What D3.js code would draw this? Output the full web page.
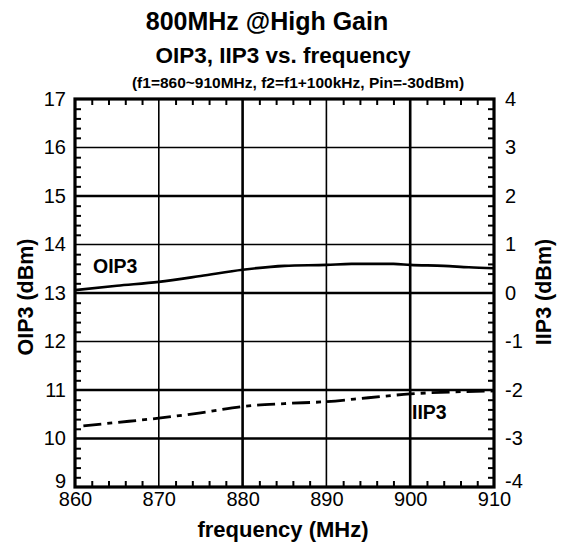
<!DOCTYPE html>
<html><head><meta charset="utf-8">
<script src="https://cdn.jsdelivr.net/npm/d3@7"></script>
<style>
html,body{margin:0;padding:0;background:#fff;}
text{font-family:"Liberation Sans",Arial,sans-serif;fill:#000;}
</style></head>
<body>
<svg id="chart" width="563" height="549"></svg>
<script>
const titleLines = ["800MHz @High Gain", "OIP3, IIP3 vs. frequency"];
const subtitle = "(f1=860~910MHz, f2=f1+100kHz, Pin=-30dBm)";
const xTicks = [860, 870, 880, 890, 900, 910];
const yLeftTicks = [9, 10, 11, 12, 13, 14, 15, 16, 17];
const yRightTicks = [-4, -3, -2, -1, 0, 1, 2, 3, 4];
const thickH = [15, 13, 11, 10];
const thickV = [880, 900];
const oip3Freq = [860, 865, 870, 875, 880, 885, 890, 893, 898, 900, 904, 907, 910];
const oip3Vals = [13.06, 13.15, 13.23, 13.35, 13.48, 13.56, 13.58, 13.60, 13.60, 13.58, 13.56, 13.53, 13.51];
const iip3Freq = [861, 865, 870, 875, 880, 885, 890, 895, 900, 905, 910];
const iip3Vals = [-2.74, -2.67, -2.58, -2.47, -2.34, -2.28, -2.24, -2.16, -2.08, -2.04, -2.02];

const svg = d3.select("#chart");
const L = 75, R = 494, T = 99, B = 487;
const x = d3.scaleLinear().domain([860, 910]).range([L, R]);
const yL = d3.scaleLinear().domain([9, 17]).range([B, T]);
const yR = d3.scaleLinear().domain([-4, 4]).range([B, T]);

// titles
const tCfg = [{cx: 267, y: 30, fs: 25}, {cx: 283, y: 63, fs: 22.5}];
svg.selectAll("text.title").data(titleLines).enter().append("text")
  .attr("x", (d, i) => tCfg[i].cx).attr("y", (d, i) => tCfg[i].y)
  .attr("text-anchor", "middle").style("font-size", (d, i) => tCfg[i].fs + "px").style("font-weight", "bold").text(d => d);
svg.append("text").attr("x", 298).attr("y", 88).attr("text-anchor", "middle")
  .style("font-size", "15.5px").style("font-weight", "bold").text(subtitle);

// grid
const g = svg.append("g");
g.selectAll("line.h").data(yLeftTicks.filter(v => v > 9 && v < 17)).enter().append("line")
  .attr("x1", L).attr("x2", R).attr("y1", d => yL(d)).attr("y2", d => yL(d))
  .attr("stroke", "#000").attr("stroke-width", d => thickH.includes(d) ? 2.6 : 1.6);
g.selectAll("line.v").data(xTicks.filter(v => v > 860 && v < 910)).enter().append("line")
  .attr("y1", T).attr("y2", B).attr("x1", d => x(d)).attr("x2", d => x(d))
  .attr("stroke", "#000").attr("stroke-width", d => thickV.includes(d) ? 2.6 : 1.6);

// minor ticks via axes
const minorX = d3.range(862, 910, 2).filter(v => (v - 860) % 10 !== 0);
const minorY = d3.range(9.2, 17, 0.2).map(v => +v.toFixed(1)).filter(v => Math.abs(v - Math.round(v)) > 0.01);
const tickStyle = sel => { sel.select(".domain").remove(); sel.selectAll("line").attr("stroke", "#000").attr("stroke-width", 2); sel.selectAll("text").remove(); };
svg.append("g").attr("transform", `translate(0,${B})`).call(d3.axisTop(x).tickValues(minorX).tickSize(6)).call(tickStyle);
svg.append("g").attr("transform", `translate(0,${T})`).call(d3.axisBottom(x).tickValues(minorX).tickSize(6)).call(tickStyle);
svg.append("g").attr("transform", `translate(${L},0)`).call(d3.axisRight(yL).tickValues(minorY).tickSize(6)).call(tickStyle);
svg.append("g").attr("transform", `translate(${R},0)`).call(d3.axisLeft(yL).tickValues(minorY).tickSize(6)).call(tickStyle);

// frame
svg.append("rect").attr("x", L).attr("y", T).attr("width", R - L).attr("height", B - T)
  .attr("fill", "none").attr("stroke", "#000").attr("stroke-width", 3.2);

// tick labels
const fmt = d => String(d);
const lab = sel => { sel.select(".domain").remove(); sel.selectAll("line").remove(); sel.selectAll("text").style("font-size", "20px").style("font-family", '"Liberation Sans",Arial,sans-serif'); };
svg.append("g").attr("transform", `translate(0,${B})`)
  .call(d3.axisBottom(x).tickValues(xTicks).tickSize(0).tickPadding(5).tickFormat(fmt)).call(lab);
const gl = svg.append("g").attr("transform", `translate(${L},0)`)
  .call(d3.axisLeft(yL).tickValues(yLeftTicks).tickSize(0).tickPadding(9).tickFormat(fmt)).call(lab);
gl.selectAll(".tick").filter(d => d === 9).select("text").attr("dy", "0.0em");
const gr = svg.append("g").attr("transform", `translate(${R},0)`)
  .call(d3.axisRight(yR).tickValues(yRightTicks).tickSize(0).tickPadding(11).tickFormat(fmt)).call(lab);
gr.selectAll(".tick").filter(d => d === -4).select("text").attr("dy", "0.0em");
svg.selectAll(".tick text").attr("fill", "#000");

// axis titles
svg.append("text").attr("x", 283).attr("y", 537).attr("text-anchor", "middle")
  .style("font-size", "22px").style("font-weight", "bold").text("frequency (MHz)");
svg.append("text").attr("transform", `translate(33,297) rotate(-90)`).attr("text-anchor", "middle")
  .style("font-size", "21.5px").style("font-weight", "bold").text("OIP3 (dBm)");
svg.append("text").attr("transform", `translate(551,292) rotate(-90)`).attr("text-anchor", "middle")
  .style("font-size", "21.5px").style("font-weight", "bold").text("IIP3 (dBm)");

// lines
const oipLine = d3.line().x((d, i) => x(oip3Freq[i])).y(d => yL(d)).curve(d3.curveMonotoneX);
svg.append("path").attr("d", oipLine(oip3Vals)).attr("fill", "none").attr("stroke", "#000").attr("stroke-width", 2.6);
const iipLine = d3.line().x((d, i) => x(iip3Freq[i])).y(d => yR(d)).curve(d3.curveMonotoneX);
svg.append("path").attr("d", iipLine(iip3Vals)).attr("fill", "none").attr("stroke", "#000").attr("stroke-width", 2.8)
  .attr("stroke-dasharray", "18,6,5,6");

// series labels
svg.append("text").attr("x", 93).attr("y", 273).style("font-size", "19.5px").style("font-weight", "bold").text("OIP3");
svg.append("text").attr("x", 412).attr("y", 419).style("font-size", "19.5px").style("font-weight", "bold").text("IIP3");
</script>
</body></html>
